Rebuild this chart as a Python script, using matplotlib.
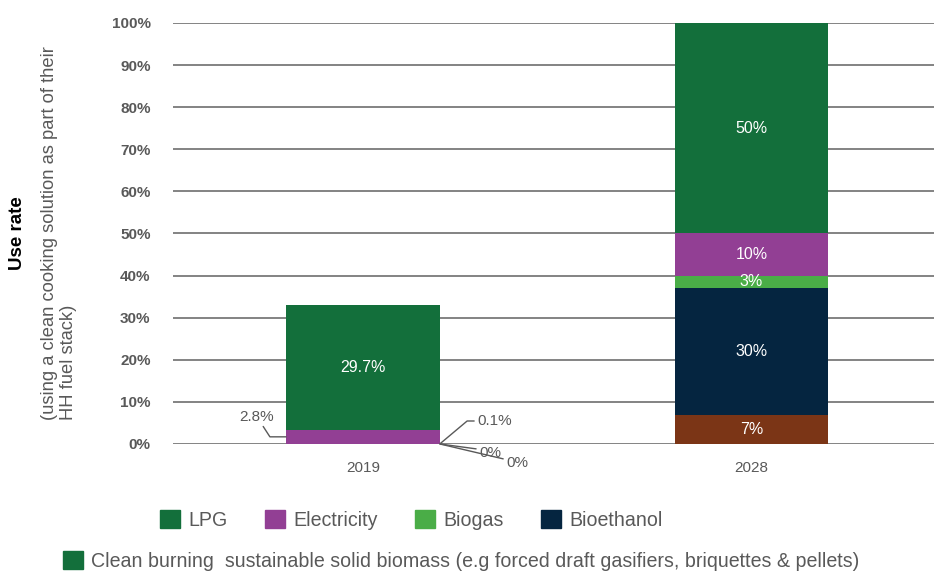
import numpy as np
import matplotlib
matplotlib.use("Agg")
from matplotlib import pyplot as plt
from matplotlib.patches import Patch

plt.rcParams['font.family'] = ['Liberation Sans', 'DejaVu Sans']

years = ["2019", "2028"]
fuels = ["Clean burning  sustainable solid biomass (e.g forced draft gasifiers, briquettes & pellets)",
         "Bioethanol", "Biogas", "Electricity", "LPG"]
biomass = [0, 7]
bioethanol = [0, 30]
biogas = [0.1, 3]
electricity = [3.2, 10]
lpg = [29.7, 50]
labels_2019 = ["0%", "0%", "0.1%", "2.8%", "29.7%"]
labels_2028 = ["7%", "30%", "3%", "10%", "50%"]

colors = ["#7b3516", "#052540", "#4aad47", "#923f94", "#136f3b"]
grey = "#595959"

fig = plt.figure(figsize=(9.34, 5.72), dpi=100)
ax = fig.add_axes([0.185, 0.2238, 0.815, 0.736])

series = [biomass, bioethanol, biogas, electricity, lpg]
x = np.arange(len(years))
w = 0.396
bottom = np.zeros(len(years))
mids = []
for vals, c in zip(series, colors):
    vals = np.array(vals, dtype=float)
    ax.bar(x, vals, w, bottom=bottom, color=c, zorder=3)
    mids.append(bottom + vals / 2)
    bottom = bottom + vals

# labels inside bars
for i, lab in enumerate(labels_2028):
    ax.text(x[1], mids[i][1], lab, ha="center", va="center", color="white",
            fontsize=11.5, zorder=4)
ax.text(x[0], mids[4][0], labels_2019[4], ha="center", va="center",
        color="white", fontsize=11.5, zorder=4)

# leader labels for the small 2019 values
lk = dict(arrowstyle="-", color=grey, lw=1, shrinkA=0, shrinkB=0)
ax.annotate(labels_2019[3], xy=(x[0] - w / 2, mids[3][0]), xytext=(-21.6, 14.5),
            textcoords="offset points", ha="center", va="center", color=grey, fontsize=11,
            arrowprops=dict(lk, relpos=(0.65, 0),
                            connectionstyle="angle,angleA=-57,angleB=0,rad=0"))
ax.annotate(labels_2019[2], xy=(x[0] + w / 2, mids[2][0]), xytext=(26.6, 16.4),
            textcoords="offset points", ha="left", va="center", color=grey, fontsize=11,
            arrowprops=dict(lk, relpos=(0, 0.5),
                            connectionstyle="angle,angleA=180,angleB=40,rad=0"))
ax.annotate(labels_2019[1], xy=(x[0] + w / 2, mids[1][0]), xytext=(28, -6.3),
            textcoords="offset points", ha="left", va="center", color=grey, fontsize=11,
            arrowprops=dict(lk, relpos=(0, 0.75)))
ax.annotate(labels_2019[0], xy=(x[0] + w / 2, mids[0][0]), xytext=(47.5, -13.7),
            textcoords="offset points", ha="left", va="center", color=grey, fontsize=11,
            arrowprops=dict(lk, relpos=(0, 0.75)))

ax.set_xlim(-0.49, 1.47)
ax.set_ylim(0, 100)
ax.set_yticks(np.arange(0, 101, 10))
ax.set_yticklabels(["{}%".format(v) for v in range(0, 101, 10)],
                   fontweight="bold", color=grey, fontsize=11)
ax.set_xticks(x)
ax.set_xticklabels(years, color=grey, fontsize=11)
ax.tick_params(axis="both", length=0)
ax.tick_params(axis="y", pad=16)
ax.tick_params(axis="x", pad=12)
ax.grid(axis="y", color="#7a7a7a", lw=1.3, zorder=0)
for s in ax.spines.values():
    s.set_visible(False)

fig.text(17 / 934, 0.592, "Use rate", rotation=90, ha="center", va="center",
         fontweight="bold", fontsize=13.5, color="black")
fig.text(59 / 934, 0.592, "(using a clean cooking solution as part of their\nHH fuel stack)",
         rotation=90, ha="center", va="center", multialignment="left",
         fontsize=13.2, color=grey, linespacing=1.2)

# legend (row 1 and row 2)
h1 = [Patch(color=colors[4], label=fuels[4]), Patch(color=colors[3], label=fuels[3]),
      Patch(color=colors[2], label=fuels[2]), Patch(color=colors[1], label=fuels[1])]
leg_kw = dict(frameon=False, fontsize=14.1, handlelength=1.03, handleheight=1.05,
              handletextpad=0.42, columnspacing=1.9, borderpad=0, borderaxespad=0,
              labelcolor=grey, loc="center left")
fig.legend(handles=h1, ncol=4, bbox_to_anchor=(160 / 934, 1 - 520 / 572), **leg_kw)
h2 = [Patch(color=colors[4], label=fuels[0])]
fig.legend(handles=h2, ncol=1, bbox_to_anchor=(63 / 934, 1 - 561 / 572), **leg_kw)

plt.savefig("out.png", dpi=100)
